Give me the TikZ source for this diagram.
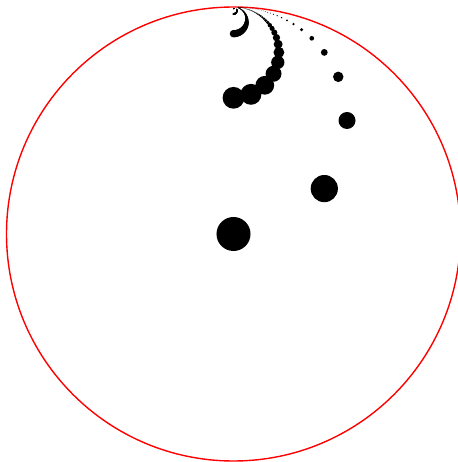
\documentclass[tikz,border=0pt]{standalone}
\usepackage{tikz}

\begin{document}
\begin{tikzpicture}[x=1pt,y=1pt]
  % Rammen
  \useasboundingbox (-233.5,-228) rectangle (223.5,234);
  \def\Rad{227}
  \def\dotr{0.0749}

  % Enhedscirkel
  \draw[red,line width=1.4pt] (0,0) circle (\Rad pt);

  % Punkter n + h i, fort til skiven
  \foreach \h in {1,4,16,64,256}{
    \foreach \n in {0,...,100}{
      \pgfmathsetmacro\ua{\n/\h}
      \pgfmathsetmacro\ub{1/\h}
      \pgfmathsetmacro\E{\ua*\ua+(1+\ub)*(1+\ub)}
      \pgfmathsetmacro\zx{2*\ua*\ub/\E*\Rad}
      \pgfmathsetmacro\zy{(\ua*\ua+1-\ub*\ub)/\E*\Rad}
      \pgfmathsetmacro\rad{\dotr*4*\ub/\E*\Rad}
      \fill (\zx,\zy) circle (\rad pt);
    }
  }
\end{tikzpicture}
\end{document}
